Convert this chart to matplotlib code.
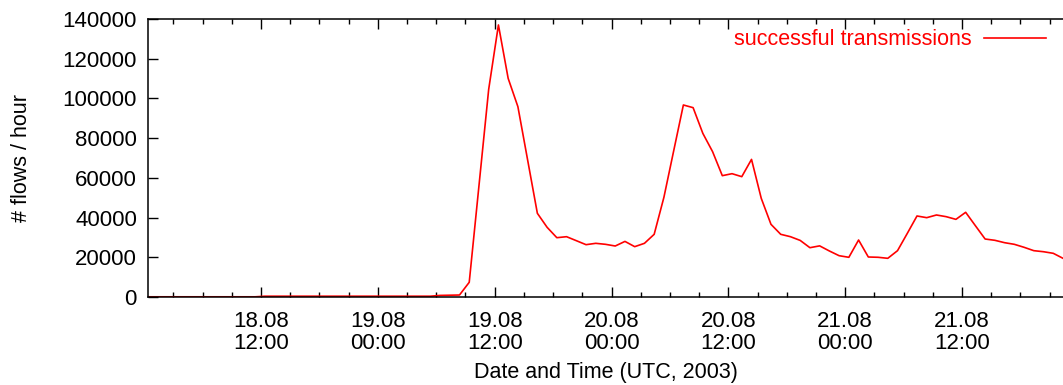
import numpy as np
import pandas as pd
import matplotlib
matplotlib.use('Agg')
import matplotlib.pyplot as plt
import matplotlib.dates as mdates

plt.rcParams['font.family'] = ['Liberation Sans', 'DejaVu Sans']

# hourly flow counts, starting 18.08.2003 00:23 UTC
start = '2003-08-18 00:23'
flows = [100] * 12 + [400] * 18 + [800, 900, 1000,
         7400, 56000, 104600, 137000, 110100, 95850, 69000, 42150, 35100,
         29870, 30370, 28370, 26350, 27030, 26530, 25680, 28000, 25350, 27030,
         31570, 50200, 73500, 96700, 95350, 82400, 73200, 61100, 62100, 60600,
         69300, 49700, 36600, 31570, 30370, 28500, 24830, 25750, 23170, 20800,
         19990, 28700, 20140, 20000, 19480, 23330, 32000, 40800, 39950, 41300,
         40450, 39100, 42650, 35900, 29200, 28550, 27350, 26530, 25030, 23330,
         22800, 22000, 19480]
times = pd.date_range(start, periods=len(flows), freq='h')

fs_tick = 16
fs_text = 15.5

fig = plt.figure(figsize=(10.63, 3.85), dpi=100)
ax = fig.add_axes([148 / 1063, 1 - 297 / 385, 915 / 1063, 278 / 385])

ax.plot(times, flows, color='#ff0000', lw=1.2, label='successful transmissions')

ax.set_xlim(times[0], times[-1])
ax.set_ylim(0, 140000)
ax.set_yticks(range(0, 140001, 20000))

ax.xaxis.set_major_locator(mdates.HourLocator(byhour=[0, 12]))
ax.xaxis.set_minor_locator(mdates.HourLocator(byhour=range(0, 24, 3)))
ax.xaxis.set_major_formatter(mdates.DateFormatter('%d.%m\n%H:%M'))

ax.tick_params(axis='both', which='both', direction='in', labelsize=fs_tick, width=1.0)
ax.tick_params(axis='x', which='both', top=True)
ax.tick_params(axis='x', which='major', length=7, pad=10)
ax.tick_params(axis='x', which='minor', length=3.5)
ax.tick_params(axis='y', which='major', length=7, pad=8)
ax.spines['right'].set_visible(False)
for s in ['left', 'top', 'bottom']:
    ax.spines[s].set_linewidth(1.1)

ax.set_xlabel('Date and Time (UTC, 2003)', fontsize=fs_text, labelpad=6)
ax.set_ylabel('# flows / hour', fontsize=fs_text, labelpad=22)

ax.legend(loc='upper right', frameon=False, markerfirst=False, fontsize=fs_text,
          labelcolor='#ff0000', handlelength=2.85, handletextpad=0.6,
          bbox_to_anchor=(1.0, 1.025), borderaxespad=0.4)

fig.canvas.draw()
for lab in ax.get_xticklabels():
    lab.set_linespacing(1.05)

fig.savefig('out.png', dpi=100)
